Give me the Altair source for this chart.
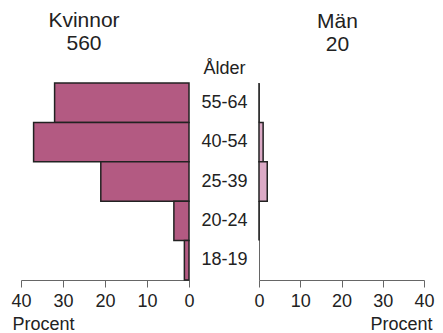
import altair as alt
import pandas as pd

ages = ["55-64", "40-54", "25-39", "20-24", "18-19"]
women = [32, 37, 21, 3.6, 1.1]
men = [0, 1, 2, 0, None]

df_w = pd.DataFrame({"age": ages, "pct": women})
df_m = pd.DataFrame({"age": ages, "pct": men}).dropna()

FONT = "Liberation Sans"
AX = "#666666"
TXT = "#222222"

xcommon = dict(
    values=[0, 10, 20, 30, 40], tickSize=7, tickColor=AX, domainColor=AX,
    labelFontSize=18, labelColor=TXT, labelFont=FONT, grid=False, labelFlush=False,
    titleFontSize=18, titleFontWeight="normal", titleFont=FONT, titleColor=TXT,
    labelPadding=5, titleBaseline="alphabetic", titleY=49, titleAngle=0,
)

def ttl(lines, dx, off):
    return alt.TitleParams(lines, fontSize=21, fontWeight="normal", font=FONT,
                           color=TXT, lineHeight=23, anchor="middle", dx=dx, offset=off)

yscale = alt.Scale(domain=ages, paddingInner=0, paddingOuter=0)

left = alt.Chart(df_w).mark_bar(color="#b35a82", stroke=TXT, strokeWidth=1.5).encode(
    x=alt.X("pct:Q", scale=alt.Scale(domain=[0, 40], reverse=True),
            axis=alt.Axis(title="Procent", titleX=-9, titleAlign="left", **xcommon)),
    y=alt.Y("age:N", sort=ages, scale=yscale, axis=None),
).properties(width=168, height=197, title=ttl(["Kvinnor", "560"], -21, 28))

right = alt.Chart(df_m).mark_bar(color="#dcaac6", stroke=TXT, strokeWidth=1.5).encode(
    x=alt.X("pct:Q", scale=alt.Scale(domain=[0, 40]),
            axis=alt.Axis(title="Procent", titleX=173, titleAlign="right", **xcommon)),
    y=alt.Y("age:N", sort=ages, scale=yscale,
            axis=alt.Axis(title="Ålder", ticks=False, labelPadding=12, labelFontSize=18,
                          labelFont=FONT, labelColor=TXT, domainColor=AX,
                          titleAngle=0, titleX=-35, titleY=-10, titleAlign="center",
                          titleBaseline="alphabetic", titleFontSize=18,
                          titleFontWeight="normal", titleFont=FONT, titleColor=TXT)),
).properties(width=165, height=197, title=ttl(["Män", "20"], -4, 4))

chart = alt.hconcat(left, right, spacing=70).properties(
    bounds="flush", padding={"left": 2, "top": 2, "right": 0, "bottom": 0}
).configure_view(stroke=None)

chart.save("out.html", embed_options={"renderer": "svg", "actions": False})
